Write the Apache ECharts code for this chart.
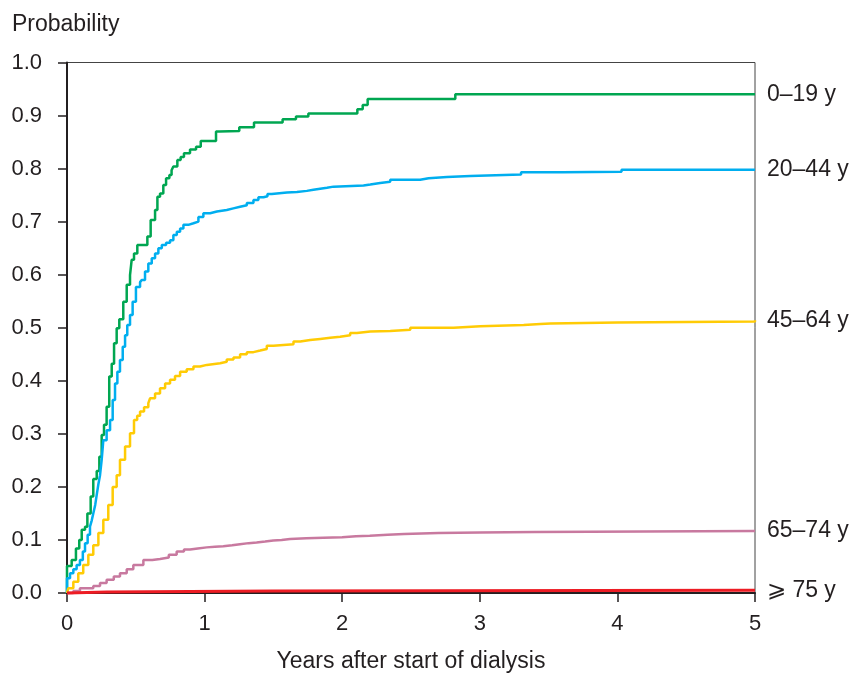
<!DOCTYPE html>
<html>
<head>
<meta charset="utf-8">
<script src="https://cdn.jsdelivr.net/npm/echarts@6/dist/echarts.min.js"></script>
<style>
html,body{margin:0;padding:0;background:#fff;}
#chart{width:854px;height:675px;}
</style>
</head>
<body>
<div id="chart"></div>
<script>
// ---- Data (years after start of dialysis, probability) ----
const seriesNames = ['0\u201319 y', '20\u201344 y', '45\u201364 y', '65\u201374 y', '\u2A7E 75 y'];

const t0_19 = [0, 0, 0.034, 0.065, 0.089, 0.107, 0.131, 0.148, 0.172, 0.191, 0.216, 0.235, 0.252, 0.269, 0.288, 0.307, 0.325, 0.342, 0.361, 0.380, 0.409, 0.434, 0.458, 0.470, 0.487, 0.511, 0.584, 0.608, 0.640, 0.657, 0.676, 0.700, 0.720, 0.744, 0.760, 0.773, 0.802, 0.826, 0.850, 0.894, 0.938, 0.972, 1.083, 1.107, 1.252, 1.359, 1.567, 1.664, 1.754, 2.110, 2.149, 2.185, 2.822, 5];
const v0_19 = [0, 0.051, 0.062, 0.084, 0.100, 0.119, 0.125, 0.150, 0.182, 0.215, 0.230, 0.257, 0.298, 0.317, 0.351, 0.408, 0.432, 0.471, 0.499, 0.516, 0.549, 0.581, 0.599, 0.628, 0.640, 0.656, 0.672, 0.703, 0.722, 0.747, 0.753, 0.769, 0.782, 0.788, 0.797, 0.804, 0.816, 0.822, 0.829, 0.836, 0.841, 0.852, 0.870, 0.871, 0.878, 0.887, 0.893, 0.898, 0.904, 0.912, 0.920, 0.931, 0.940, 0.940];

const t20_44 = [0, 0, 0.022, 0.046, 0.070, 0.094, 0.115, 0.131, 0.150, 0.167, 0.180, 0.191, 0.205, 0.216, 0.228, 0.240, 0.252, 0.264, 0.288, 0.313, 0.332, 0.349, 0.366, 0.385, 0.405, 0.422, 0.438, 0.458, 0.477, 0.501, 0.531, 0.543, 0.567, 0.591, 0.616, 0.640, 0.664, 0.689, 0.720, 0.749, 0.773, 0.798, 0.822, 0.846, 0.882, 0.919, 0.955, 0.991, 1.040, 1.089, 1.161, 1.209, 1.258, 1.307, 1.355, 1.391, 1.428, 1.457, 1.488, 1.525, 1.598, 1.671, 1.743, 1.791, 1.840, 1.889, 1.937, 2.155, 2.204, 2.276, 2.349, 2.567, 2.628, 2.761, 2.931, 3.30, 3.60, 4.03, 5];
const v20_44 = [0, 0.028, 0.037, 0.045, 0.053, 0.062, 0.078, 0.094, 0.110, 0.125, 0.137, 0.150, 0.166, 0.185, 0.205, 0.222, 0.251, 0.288, 0.307, 0.326, 0.364, 0.395, 0.417, 0.439, 0.464, 0.486, 0.505, 0.524, 0.549, 0.577, 0.586, 0.590, 0.606, 0.621, 0.631, 0.640, 0.650, 0.656, 0.660, 0.665, 0.675, 0.681, 0.687, 0.694, 0.697, 0.700, 0.709, 0.716, 0.719, 0.722, 0.725, 0.728, 0.731, 0.735, 0.741, 0.746, 0.748, 0.752, 0.753, 0.755, 0.756, 0.758, 0.760, 0.762, 0.764, 0.766, 0.768, 0.770, 0.773, 0.775, 0.779, 0.782, 0.784, 0.786, 0.789, 0.793, 0.794, 0.798, 0.798];

const t45_64 = [0, 0.009, 0.046, 0.082, 0.118, 0.155, 0.191, 0.228, 0.264, 0.300, 0.332, 0.361, 0.385, 0.422, 0.458, 0.487, 0.510, 0.531, 0.560, 0.591, 0.604, 0.640, 0.676, 0.713, 0.749, 0.785, 0.822, 0.870, 0.919, 0.967, 1.016, 1.113, 1.161, 1.210, 1.258, 1.307, 1.355, 1.404, 1.452, 1.500, 1.646, 1.695, 1.767, 1.840, 1.913, 1.985, 2.058, 2.107, 2.204, 2.349, 2.495, 2.810, 3.004, 3.319, 3.440, 3.513, 4.0, 5];
const v45_64 = [0, 0.009, 0.021, 0.037, 0.053, 0.072, 0.090, 0.113, 0.138, 0.166, 0.200, 0.222, 0.251, 0.276, 0.301, 0.326, 0.334, 0.342, 0.350, 0.358, 0.367, 0.376, 0.386, 0.395, 0.402, 0.409, 0.417, 0.422, 0.427, 0.430, 0.433, 0.436, 0.440, 0.444, 0.450, 0.454, 0.457, 0.460, 0.466, 0.469, 0.474, 0.477, 0.479, 0.481, 0.483, 0.486, 0.490, 0.493, 0.494, 0.496, 0.500, 0.503, 0.505, 0.507, 0.508, 0.510, 0.512, 0.514];

const t65_74 = [0, 0.046, 0.094, 0.191, 0.240, 0.288, 0.340, 0.385, 0.434, 0.482, 0.555, 0.620, 0.676, 0.740, 0.797, 0.850, 0.894, 0.950, 1.015, 1.075, 1.136, 1.200, 1.257, 1.320, 1.378, 1.440, 1.499, 1.560, 1.621, 1.740, 1.863, 2.0, 2.1, 2.2, 2.33, 2.45, 2.7, 3.0, 3.4, 5];
const v65_74 = [0, 0.004, 0.009, 0.013, 0.019, 0.025, 0.031, 0.037, 0.045, 0.053, 0.062, 0.064, 0.067, 0.072, 0.078, 0.082, 0.084, 0.086, 0.087, 0.088, 0.090, 0.092, 0.094, 0.095, 0.097, 0.099, 0.100, 0.102, 0.103, 0.104, 0.105, 0.107, 0.108, 0.110, 0.111, 0.113, 0.114, 0.115, 0.117, 0.117];

const t75 = [0, 0, 0.29, 1.5, 5];
const v75 = [0, 0.002, 0.004, 0.005, 0.005];

const xTicks = [0, 1, 2, 3, 4, 5];
const colors = ['#00a651', '#00aeef', '#ffcb05', '#c8799f', '#ed1c24'];

const zip = (t, v) => t.map((x, i) => [x, v[i]]);
const allData = [zip(t0_19, v0_19), zip(t20_44, v20_44), zip(t45_64, v45_64), zip(t65_74, v65_74), zip(t75, v75)];

const txt = '#231f20';
const FONT = 'Liberation Sans, Arial, Helvetica, sans-serif';

const chart = echarts.init(document.getElementById('chart'), null, {renderer: 'canvas'});
chart.setOption({
  animation: false,
  backgroundColor: '#fff',
  textStyle: {fontFamily: FONT, color: txt},
  title: {
    text: 'Probability', left: 7, top: 8,
    textStyle: {fontFamily: FONT, fontSize: 23, fontWeight: 'normal', color: txt}
  },
  grid: {
    left: 67, right: 99, top: 62.5, bottom: 82,
    outerBoundsMode: 'none', containLabel: false,
    show: true, borderColor: '#444', borderWidth: 1, backgroundColor: 'transparent'
  },
  xAxis: {
    type: 'value', min: xTicks[0], max: xTicks[xTicks.length - 1], interval: 1,
    name: 'Years after start of dialysis', nameLocation: 'middle', nameGap: 57,
    nameTextStyle: {fontFamily: FONT, fontSize: 23, color: txt},
    axisLine: {show: true, onZero: false, lineStyle: {color: '#231f20', width: 2}},
    axisTick: {show: true, inside: false, length: 9, lineStyle: {color: '#231f20', width: 1.5}},
    axisLabel: {fontFamily: FONT, fontSize: 22, color: txt, margin: 20},
    splitLine: {show: false}
  },
  yAxis: {
    type: 'value', min: 0, max: 1, interval: 0.1,
    axisLine: {show: true, onZero: false, lineStyle: {color: '#231f20', width: 2}},
    axisTick: {show: true, inside: false, length: 9, lineStyle: {color: '#231f20', width: 1.5}},
    axisLabel: {fontFamily: FONT, fontSize: 22, color: txt, margin: 25, formatter: v => v.toFixed(1)},
    splitLine: {show: false}
  },
  series: allData.map((d, i) => ({
    name: seriesNames[i],
    type: 'line',
    step: 'end',
    data: d,
    showSymbol: false,
    symbol: 'none',
    clip: false,
    color: colors[i],
    lineStyle: {color: colors[i], width: i === 4 ? 3 : 2.5},
    endLabel: {
      show: true, formatter: seriesNames[i], distance: 12,
      fontFamily: FONT, fontSize: 23, color: txt
    },
    z: 3 + (i === 4 ? 1 : 0)
  }))
});
</script>
</body>
</html>
